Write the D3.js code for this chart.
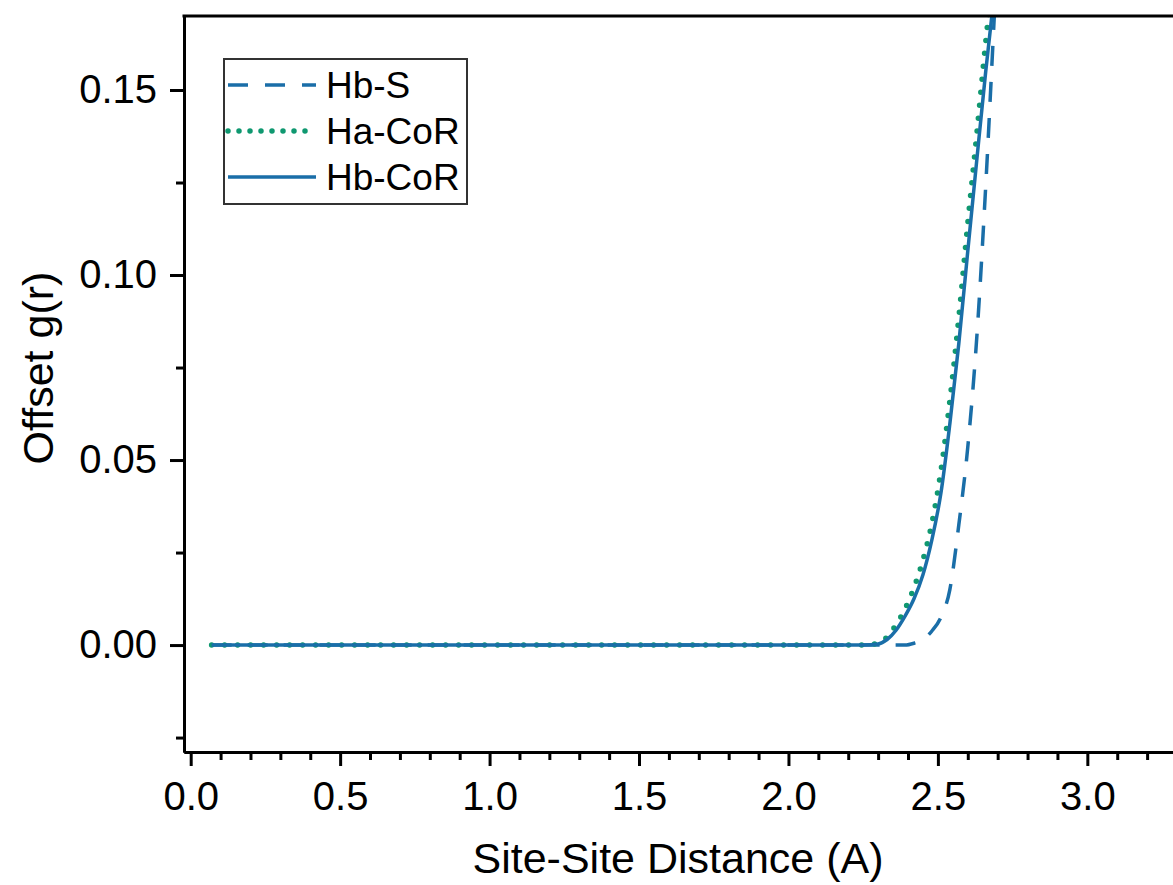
<!DOCTYPE html>
<html>
<head>
<meta charset="utf-8">
<script src="https://cdn.jsdelivr.net/npm/d3@7"></script>
<style>
	body { margin: 0; background: #fff; }
	svg { display: block; font-family: 'Liberation Sans', Arial, sans-serif; }
</style>
</head>
<body>
<div id="visContainer"></div>
<script>
'use strict';

// data
var distance = [0.07, 0.5, 1.0, 1.5, 2.0, 2.25, 2.3, 2.33, 2.36, 2.39, 2.42, 2.45, 2.48, 2.51, 2.54, 2.57, 2.6, 2.63, 2.66, 2.69, 2.72];
var hbS = [0, 0, 0, 0, 0, 0, 0, 0, 0, 0, 0.0005, 0.0015, 0.0038, 0.0075, 0.015, 0.0325, 0.0535, 0.083, 0.124, 0.172, 0.22];
var haCoR = [0, 0, 0, 0, 0, 0, 0.0005, 0.0022, 0.0055, 0.0098, 0.0155, 0.023, 0.033, 0.047, 0.066, 0.0885, 0.114, 0.138, 0.163, 0.185, 0.205];
var hbCoR = [0, 0, 0, 0, 0, 0, 0.0003, 0.0015, 0.004, 0.0078, 0.0125, 0.019, 0.0285, 0.041, 0.0598, 0.0815, 0.1065, 0.131, 0.155, 0.177, 0.198];

var seriesNames = ['Hb-S', 'Ha-CoR', 'Hb-CoR'];
var xMajor = [0, 0.5, 1.0, 1.5, 2.0, 2.5, 3.0];
var xMinor = [0.1, 0.2, 0.3, 0.4, 0.6, 0.7, 0.8, 0.9, 1.1, 1.2, 1.3, 1.4, 1.6, 1.7, 1.8, 1.9, 2.1, 2.2, 2.3, 2.4, 2.6, 2.7, 2.8, 2.9, 3.1, 3.2];
var yMajor = [0, 0.05, 0.10, 0.15];
var yMinor = [-0.025, 0.025, 0.075, 0.125];

var BLUE = '#1a6ea8';
var GREEN = '#0f9870';

var svg = d3.select('#visContainer')
	.append('svg')
	.attr('width', 1173)
	.attr('height', 885);

var PLOT = { left: 184, top: 16, right: 1177, bottom: 752 };

var xScale = d3.scaleLinear().domain([-0.0224, 3.3]).range([PLOT.left, PLOT.right]);
var yScale = d3.scaleLinear().domain([-0.0289, 0.17]).range([PLOT.bottom, PLOT.top]);

svg.append('clipPath').attr('id', 'plotClip')
	.append('rect')
	.attr('x', PLOT.left).attr('y', PLOT.top)
	.attr('width', PLOT.right - PLOT.left).attr('height', PLOT.bottom - PLOT.top);

// series styles
var styles = [
	{ name: seriesNames[0], values: hbS, color: BLUE, width: 3.5, dash: '20,16', cap: 'butt' },
	{ name: seriesNames[1], values: haCoR, color: GREEN, width: 5.5, dash: '0,13', cap: 'round' },
	{ name: seriesNames[2], values: hbCoR, color: BLUE, width: 3.5, dash: null, cap: 'butt' }
];

var line = d3.line()
	.x(function (d) { return xScale(d[0]); })
	.y(function (d) { return yScale(d[1]); })
	.curve(d3.curveMonotoneX);

var lines = svg.append('g').attr('clip-path', 'url(#plotClip)');
styles.forEach(function (s) {
	var pts = distance.map(function (x, i) { return [x, s.values[i]]; });
	lines.append('path')
		.attr('d', line(pts))
		.attr('fill', 'none')
		.attr('stroke', s.color)
		.attr('stroke-width', s.width)
		.attr('stroke-linecap', s.cap)
		.attr('stroke-linejoin', 'round')
		.attr('stroke-dasharray', s.dash);
});

// axes
function styleAxis(g) {
	g.selectAll('path').attr('stroke', '#000').attr('stroke-width', 3);
	g.selectAll('line').attr('stroke', '#000').attr('stroke-width', 3);
	g.selectAll('text').attr('fill', '#000').style('font-size', '40px');
}

svg.append('g')
	.attr('transform', 'translate(0,' + PLOT.bottom + ')')
	.call(d3.axisBottom(xScale).tickValues(xMinor).tickSize(8).tickFormat('').tickSizeOuter(0))
	.call(styleAxis);
svg.append('g')
	.attr('transform', 'translate(0,' + PLOT.bottom + ')')
	.call(d3.axisBottom(xScale).tickValues(xMajor).tickSize(14).tickPadding(16).tickFormat(d3.format('.1f')).tickSizeOuter(0))
	.call(styleAxis);

svg.append('g')
	.attr('transform', 'translate(' + PLOT.left + ',0)')
	.call(d3.axisLeft(yScale).tickValues(yMinor).tickSize(8).tickFormat('').tickSizeOuter(0))
	.call(styleAxis);
svg.append('g')
	.attr('transform', 'translate(' + PLOT.left + ',0)')
	.call(d3.axisLeft(yScale).tickValues(yMajor).tickSize(14).tickPadding(13).tickFormat(d3.format('.2f')).tickSizeOuter(0))
	.call(styleAxis);

// top border of the frame
svg.append('line')
	.attr('x1', PLOT.left - 1.5).attr('x2', PLOT.right)
	.attr('y1', PLOT.top).attr('y2', PLOT.top)
	.attr('stroke', '#000').attr('stroke-width', 3);

// axis titles
svg.append('text')
	.text('Site-Site Distance (A)')
	.attr('x', 678).attr('y', 873)
	.attr('text-anchor', 'middle')
	.style('font-size', '43px');
svg.append('text')
	.text('Offset g(r)')
	.attr('transform', 'translate(53,368) rotate(-90)')
	.attr('text-anchor', 'middle')
	.style('font-size', '43px');

// legend
var legend = svg.append('g').attr('transform', 'translate(224,59)');
legend.append('rect')
	.attr('width', 243).attr('height', 145)
	.attr('fill', '#fff')
	.attr('stroke', '#333').attr('stroke-width', 2);

var legendDash = ['20,17', '0,11', null];
styles.forEach(function (s, i) {
	var cy = 26 + i * 46;
	legend.append('line')
		.attr('x1', 4).attr('x2', 92)
		.attr('y1', cy).attr('y2', cy)
		.attr('stroke', s.color)
		.attr('stroke-width', s.width)
		.attr('stroke-linecap', s.cap)
		.attr('stroke-dasharray', legendDash[i]);
	legend.append('text')
		.text(s.name)
		.attr('x', 102).attr('y', cy + 13)
		.style('font-size', '37px');
});
</script>
</body>
</html>
